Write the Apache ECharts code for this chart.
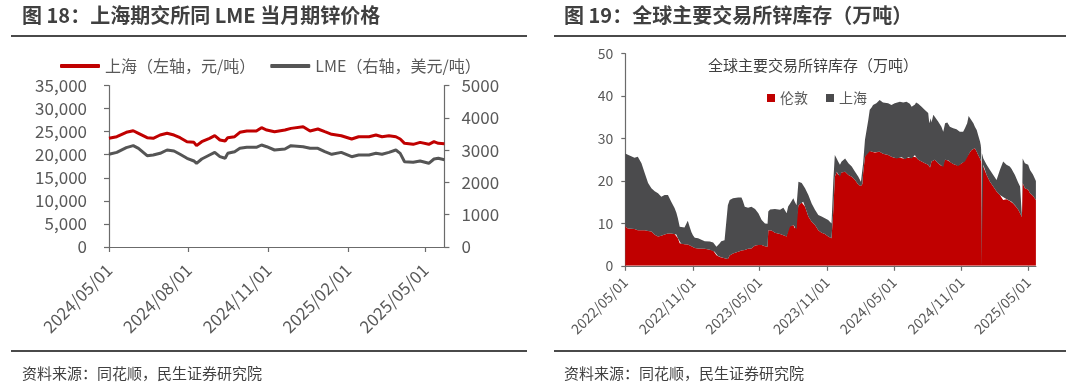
<!DOCTYPE html>
<html><head><meta charset="utf-8">
<script src="https://cdn.jsdelivr.net/npm/echarts@6/dist/echarts.min.js"></script>
<style>html,body{margin:0;padding:0;background:#fff}#c{width:1075px;height:386px}</style>
</head><body><div id="c"></div>
<script>
const FONT = '"Noto Sans CJK SC","Noto Sans",sans-serif';

// ---------- Left chart: SHFE vs LME zinc price ----------
const priceDates = ['2024-05-01','2024-05-10','2024-05-21','2024-05-29','2024-06-04','2024-06-14','2024-06-21','2024-06-29',
 '2024-07-07','2024-07-15','2024-07-22','2024-07-30','2024-08-07','2024-08-10','2024-08-16','2024-08-25','2024-08-31',
 '2024-09-06','2024-09-12','2024-09-15','2024-09-23','2024-09-29','2024-10-07','2024-10-18','2024-10-24','2024-10-30',
 '2024-11-08','2024-11-20','2024-11-27','2024-12-11','2024-12-19','2024-12-28','2025-01-05','2025-01-13','2025-01-24',
 '2025-02-05','2025-02-13','2025-02-25','2025-03-05','2025-03-12','2025-03-20','2025-03-28','2025-04-02','2025-04-07',
 '2025-04-17','2025-04-25','2025-05-05','2025-05-11','2025-05-16','2025-05-23'];
const shanghaiPrice = [23550,23900,24850,25200,24640,23690,23550,24270,
 24640,24270,23690,22820,22680,21960,22820,23550,24120,
 23190,22970,23690,23900,24850,25140,25140,25850,25350,
 24990,25350,25710,26070,25140,25570,24990,24420,24120,
 23400,23900,23900,24270,23900,24120,23900,23400,22470,
 22250,22680,22250,22820,22470,22400];
const lmePrice = [2870,2930,3075,3137,3055,2827,2848,2900,
 3003,2972,2870,2746,2663,2591,2724,2848,2930,
 2796,2746,2900,2951,3055,3086,3086,3158,3105,
 3003,3034,3137,3105,3055,3055,2951,2870,2930,
 2796,2848,2848,2900,2870,2930,3003,2900,2641,
 2622,2663,2591,2724,2746,2700];
const priceTicks = ['2024/05/01','2024/08/01','2024/11/01','2025/02/01','2025/05/01'];
const priceLeftTicks = [0,5000,10000,15000,20000,25000,30000,35000];
const priceRightTicks = [0,1000,2000,3000,4000,5000];

// ---------- Right chart: global exchange zinc stocks (10k t) ----------
const stockDates = ['2022-05-01','2022-05-04','2022-05-08','2022-05-26','2022-06-04','2022-06-09','2022-06-14','2022-06-23',
 '2022-07-02','2022-07-11','2022-07-20','2022-07-29','2022-08-07','2022-08-16','2022-08-21','2022-08-25','2022-09-03',
 '2022-09-12','2022-09-17','2022-09-21','2022-09-26','2022-09-30','2022-10-09','2022-10-18','2022-10-23','2022-10-28',
 '2022-11-01','2022-11-06','2022-11-15','2022-12-03','2022-12-17','2022-12-26','2022-12-30','2023-01-04','2023-01-08',
 '2023-01-13','2023-01-17','2023-01-26','2023-01-31','2023-02-04','2023-02-09','2023-02-18','2023-03-04','2023-03-13',
 '2023-03-17','2023-03-22','2023-03-31','2023-04-09','2023-04-19','2023-04-28',
 '2023-05-07','2023-05-16','2023-05-23','2023-05-25','2023-05-30','2023-06-03','2023-06-12','2023-06-26','2023-07-05',
 '2023-07-10','2023-07-14','2023-07-18','2023-07-23','2023-08-01','2023-08-05','2023-08-10','2023-08-15','2023-08-24',
 '2023-08-28','2023-09-02','2023-09-11','2023-09-20','2023-09-29','2023-10-08','2023-10-17','2023-10-26','2023-11-04',
 '2023-11-13','2023-11-18','2023-11-22','2023-11-27','2023-12-01','2023-12-06','2023-12-10','2023-12-20','2023-12-29',
 '2024-01-07','2024-01-16','2024-01-25','2024-02-01','2024-02-05','2024-02-07','2024-02-12','2024-02-21','2024-02-25',
 '2024-03-01','2024-03-05','2024-03-10','2024-03-14','2024-03-23','2024-04-01','2024-04-15','2024-04-24',
 '2024-05-03','2024-05-08','2024-05-17','2024-05-22','2024-05-26','2024-05-31','2024-06-04','2024-06-09','2024-06-13',
 '2024-06-18','2024-06-22','2024-06-27','2024-06-30','2024-07-06','2024-07-15','2024-07-24','2024-08-02','2024-08-05',
 '2024-08-07','2024-08-09','2024-08-11','2024-08-16','2024-08-20','2024-08-29','2024-09-07','2024-09-12','2024-09-17',
 '2024-09-23','2024-09-26','2024-09-30','2024-10-05','2024-10-09','2024-10-14','2024-10-18','2024-10-23','2024-10-27',
 '2024-11-01','2024-11-05','2024-11-10','2024-11-16','2024-11-20','2024-11-24','2024-11-28','2024-12-03','2024-12-07',
 '2024-12-12','2024-12-16','2024-12-21','2024-12-23','2024-12-24','2024-12-25','2024-12-26','2024-12-30','2025-01-08',
 '2025-01-17','2025-01-26','2025-02-04','2025-02-13','2025-02-22','2025-02-27','2025-03-03','2025-03-08','2025-03-12',
 '2025-03-17','2025-03-21','2025-03-26','2025-03-30','2025-04-04','2025-04-09','2025-04-14','2025-04-16','2025-04-22',
 '2025-05-01','2025-05-06','2025-05-14','2025-05-22'];
const londonStock = [9.3,9.2,8.8,8.7,8.4,8.4,8.4,8.4,
 8.2,8.1,7.3,6.9,7.1,7.4,7.5,7.6,7.6,
 7.5,7.4,6.5,5.3,5.2,5.1,5.0,4.7,4.6,
 4.3,4.2,4.1,4.0,3.8,3.6,3.3,2.5,2.3,
 2.1,2.0,1.8,1.7,1.6,2.4,2.9,3.3,3.6,
 3.7,3.7,4.0,4.1,4.8,4.9,
 4.9,4.6,4.5,8.4,8.4,8.3,7.8,7.5,7.2,
 7.0,6.9,9.2,9.2,9.6,8.8,8.6,14.3,14.9,
 15.1,13.9,11.6,10.4,9.6,8.4,7.8,7.5,6.9,
 6.5,13.2,21.0,22.2,21.4,21.0,22.0,22.2,21.4,
 21.0,20.2,19.1,18.8,19.3,21.8,25.7,27.3,27.0,
 26.9,26.8,26.7,26.8,26.9,26.4,26.1,25.7,
 25.4,25.3,25.5,25.6,25.3,25.1,25.4,25.6,25.4,
 25.3,25.7,26.1,25.6,25.0,24.6,24.2,23.8,23.5,
 23.2,23.8,24.6,24.8,25.0,24.2,23.5,23.3,25.0,
 24.9,24.8,24.5,24.2,24.0,23.8,23.7,23.5,23.9,
 24.2,24.4,24.6,25.8,26.2,26.8,27.3,27.5,27.7,
 26.9,26.1,25.3,25.0,24.6,0,24.2,23.8,21.4,
 19.8,18.7,17.5,16.7,15.5,15.9,15.7,15.5,15.3,
 15.1,14.7,14.3,13.8,13.2,12.4,11.5,19.5,18.3,
 17.9,17.1,16.5,15.5];
const shanghaiStock = [17.2,17.6,17.4,16.8,17.3,16.9,15.8,13.4,
 11.3,10.2,10.3,10.2,9.2,9.3,9.6,9.1,7.5,
 6.1,5.1,4.7,3.9,3.8,3.9,5.6,4.5,3.3,
 2.9,2.4,2.4,1.8,1.9,1.9,1.9,2.0,2.0,
 3.2,3.8,4.2,4.3,12.7,13.1,13.0,12.8,12.5,
 11.6,10.2,9.7,9.8,8.6,7.5,
 5.9,5.4,5.4,4.4,4.9,4.9,5.6,5.7,6.5,
 6.0,5.5,4.8,5.4,6.3,6.3,5.7,5.5,4.6,
 4.2,4.4,5.1,4.3,3.6,3.6,3.8,3.7,3.9,
 3.5,7.0,5.1,3.1,3.2,2.8,2.5,3.1,2.8,
 2.4,2.0,1.9,1.0,0.9,2.4,4.0,7.1,9.8,
 10.4,11.1,11.3,11.5,12.2,12.1,12.2,12.2,
 12.9,13.1,13.2,13.0,13.2,13.5,13.3,12.8,12.8,
 12.2,11.4,11.9,12.9,13.2,12.9,12.5,12.2,10.1,
 11.0,11.0,9.2,10.8,10.2,9.8,9.3,8.3,8.6,
 8.9,8.6,8.3,8.4,8.4,8.5,8.5,8.4,7.7,
 7.8,7.2,7.8,7.8,9.1,8.0,7.9,6.1,5.1,
 5.1,4.7,4.0,3.4,2.9,0,2.4,1.5,2.4,
 2.8,2.7,2.7,5.9,9.1,8.3,8.1,8.1,8.1,
 7.7,7.5,7.1,6.8,6.4,6.3,0.1,5.8,5.9,
 5.9,5.5,5.0,4.5];
const stockTicks = ['2022/05/01','2022/11/01','2023/05/01','2023/11/01','2024/05/01','2024/11/01','2025/05/01'];
const stockYTicks = [0,10,20,30,40,50];

function ts(s){ const p = s.split(/[-\/]/).map(Number); return new Date(p[0], p[1]-1, p[2]).getTime(); }
function pad(n){ return (n<10?'0':'')+n; }
function fmtDate(v){ const d = new Date(v); return d.getFullYear()+'/'+pad(d.getMonth()+1)+'/'+pad(d.getDate()); }
function pairs(dates, vals){ return dates.map((d,i)=>[ts(d), vals[i]]); }
// value first, date second (so that stacking applies to the value dimension)
function pairsVY(dates, vals){ return dates.map((d,i)=>[vals[i], ts(d)]); }

const AX = '#6b6b6b', LBL = '#595959';
const chart = echarts.init(document.getElementById('c'), null, {renderer:'canvas'});

function xAxisCfg(grid, dates, ticks, fontSize, margin){
  return {
    type:'value', gridIndex:grid, min: ts(dates[0]), max: ts(dates[dates.length-1]), scale:true,
    axisLine:{show:true, onZero:false, lineStyle:{color:AX, width:1.2}},
    axisTick:{show:true, inside:false, length:5, lineStyle:{color:AX, width:1.2}, customValues: ticks.map(ts)},
    axisLabel:{show:true, rotate:45, margin:margin, fontSize:fontSize, color:LBL, fontFamily:FONT,
      customValues: ticks.map(ts), formatter: fmtDate},
    splitLine:{show:false}, minorTick:{show:false}
  };
}

const option = {
  animation:false,
  backgroundColor:'#fff',
  textStyle:{fontFamily:FONT},
  grid:[
    {left:109, top:85.5, width:335.4, height:161.5, containLabel:false, outerBoundsMode:'none'},
    {left:625.3, top:53.7, width:410.6, height:212.1, containLabel:false, outerBoundsMode:'none'}
  ],
  xAxis:[
    xAxisCfg(0, priceDates, priceTicks, 17, 20),
    xAxisCfg(1, stockDates, stockTicks, 14, 14)
  ],
  yAxis:[
    {type:'value', gridIndex:0, position:'left', min:priceLeftTicks[0], max:priceLeftTicks[priceLeftTicks.length-1], interval:5000,
     axisLine:{show:true, lineStyle:{color:AX, width:1.2}}, axisTick:{show:true, length:5, lineStyle:{color:AX, width:1.2}},
     axisLabel:{margin:22, fontSize:17, color:LBL, fontFamily:FONT, formatter:v=>v.toLocaleString('en-US')}, splitLine:{show:false}},
    {type:'value', gridIndex:0, position:'right', min:priceRightTicks[0], max:priceRightTicks[priceRightTicks.length-1], interval:1000,
     axisLine:{show:true, lineStyle:{color:AX, width:1.2}}, axisTick:{show:true, length:5, lineStyle:{color:AX, width:1.2}},
     axisLabel:{margin:17, fontSize:17, color:LBL, fontFamily:FONT, formatter:v=>String(v)}, splitLine:{show:false}},
    {type:'value', gridIndex:1, position:'left', min:stockYTicks[0], max:stockYTicks[stockYTicks.length-1], interval:10,
     axisLine:{show:true, lineStyle:{color:AX, width:1.2}}, axisTick:{show:true, length:4, lineStyle:{color:AX, width:1.2}},
     axisLabel:{margin:12, fontSize:14, color:LBL, fontFamily:FONT, formatter:v=>String(v)}, splitLine:{show:false}}
  ],
  legend:[
    {left:60, top:58, padding:0, itemWidth:40, itemHeight:4, itemGap:15, icon:'roundRect',
     textStyle:{fontSize:16, color:LBL, fontFamily:FONT},
     data:['上海（左轴，元/吨）','LME（右轴，美元/吨）']},
    {left:767, top:91, padding:0, itemWidth:8, itemHeight:8, itemGap:18, icon:'rect',
     textStyle:{fontSize:14, color:LBL, fontFamily:FONT},
     data:['伦敦','上海']}
  ],
  graphic:[
    {type:'text', left:22, top:5, style:{text:'图 18：上海期交所同 LME 当月期锌价格', font:'bold 20px '+FONT, fill:'#404040'}},
    {type:'text', left:564, top:5, style:{text:'图 19：全球主要交易所锌库存（万吨）', font:'bold 20px '+FONT, fill:'#404040'}},
    {type:'line', shape:{x1:11, y1:36, x2:527, y2:36}, style:{stroke:'#4a4a4a', lineWidth:2}},
    {type:'line', shape:{x1:554, y1:36, x2:1066, y2:36}, style:{stroke:'#4a4a4a', lineWidth:2}},
    {type:'line', shape:{x1:11, y1:351, x2:527, y2:351}, style:{stroke:'#4a4a4a', lineWidth:2}},
    {type:'line', shape:{x1:554, y1:351, x2:1066, y2:351}, style:{stroke:'#4a4a4a', lineWidth:2}},
    {type:'text', left:22, top:366, style:{text:'资料来源：同花顺，民生证券研究院', font:'15px '+FONT, fill:'#404040'}},
    {type:'text', left:564, top:366, style:{text:'资料来源：同花顺，民生证券研究院', font:'15px '+FONT, fill:'#404040'}},
    {type:'text', x:813, y:65, style:{text:'全球主要交易所锌库存（万吨）', font:'15px '+FONT, fill:'#404040', align:'center', verticalAlign:'middle'}}
  ],
  series:[
    {name:'上海（左轴，元/吨）', type:'line', xAxisIndex:0, yAxisIndex:0, data:pairs(priceDates, shanghaiPrice),
     symbol:'none', showSymbol:false, lineStyle:{width:3, color:'#C00000'}, itemStyle:{color:'#C00000'}},
    {name:'LME（右轴，美元/吨）', type:'line', xAxisIndex:0, yAxisIndex:1, data:pairs(priceDates, lmePrice),
     symbol:'none', showSymbol:false, lineStyle:{width:3, color:'#555555'}, itemStyle:{color:'#555555'}},
    {name:'伦敦', type:'line', xAxisIndex:1, yAxisIndex:2, stack:'inv', data:pairsVY(stockDates, londonStock),
     encode:{x:1, y:0}, symbol:'none', showSymbol:false, lineStyle:{width:0},
     areaStyle:{color:'#C00000', opacity:1}, itemStyle:{color:'#C00000'}},
    {name:'上海', type:'line', xAxisIndex:1, yAxisIndex:2, stack:'inv', data:pairsVY(stockDates, shanghaiStock),
     encode:{x:1, y:0}, symbol:'none', showSymbol:false, lineStyle:{width:0},
     areaStyle:{color:'#4B4B4D', opacity:1}, itemStyle:{color:'#4B4B4D'}}
  ]
};
chart.setOption(option);
</script></body></html>
